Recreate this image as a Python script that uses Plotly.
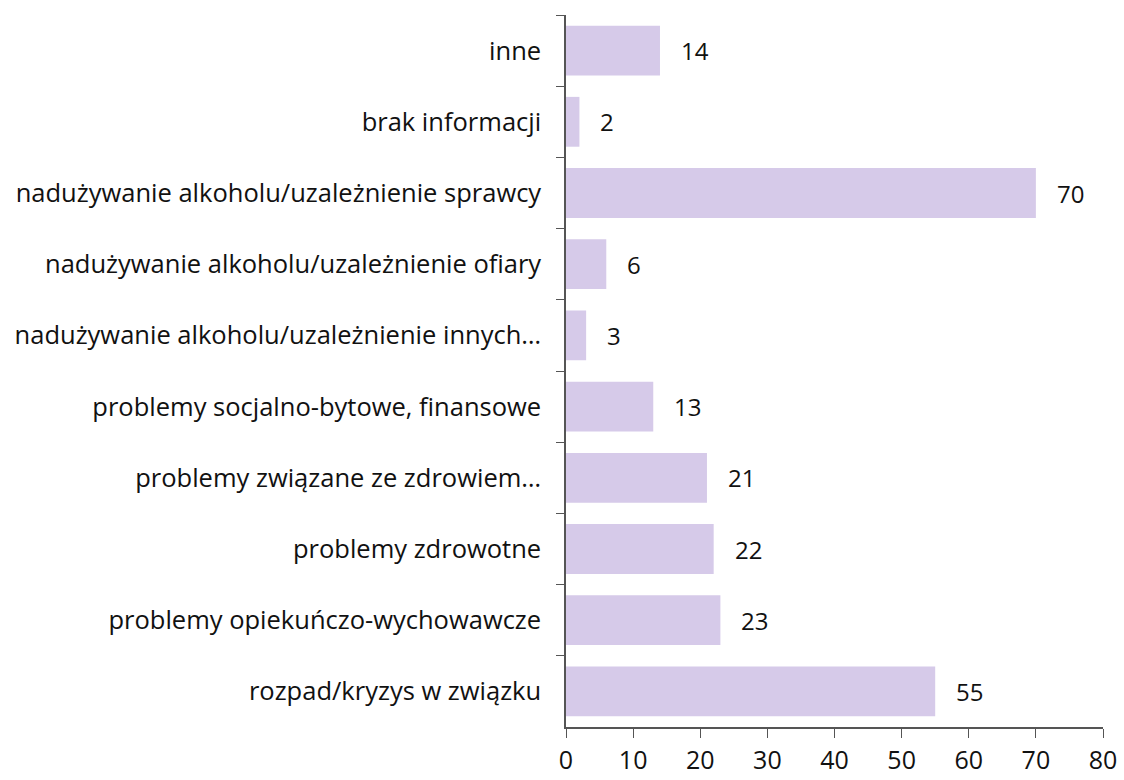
import plotly.graph_objects as go

categories = [
    "inne",
    "brak informacji",
    "nadużywanie alkoholu/uzależnienie sprawcy",
    "nadużywanie alkoholu/uzależnienie ofiary",
    "nadużywanie alkoholu/uzależnienie innych…",
    "problemy socjalno-bytowe, finansowe",
    "problemy związane ze zdrowiem…",
    "problemy zdrowotne",
    "problemy opiekuńczo-wychowawcze",
    "rozpad/kryzys w związku",
]
values = [14, 2, 70, 6, 3, 13, 21, 22, 23, 55]
x_ticks = [0, 10, 20, 30, 40, 50, 60, 70, 80]

bar_color = "#d6cae9"
font_family = "'Open Sans', sans-serif"

fig = go.Figure()

fig.add_trace(go.Bar(
    x=values,
    y=categories,
    orientation="h",
    marker=dict(color=bar_color, line=dict(width=0)),
    hoverinfo="x+y",
))

# value labels right of each bar
for cat, val in zip(categories, values):
    fig.add_annotation(
        x=val, y=cat, text=str(val),
        xanchor="left", xshift=19, showarrow=False,
        font=dict(family=font_family, size=24, color="#111111"),
    )

fig.update_layout(
    width=1124, height=780,
    margin=dict(l=566, r=21, t=15, b=53),
    paper_bgcolor="white",
    plot_bgcolor="white",
    bargap=0.3,
    showlegend=False,
    font=dict(family=font_family, color="#111111"),
    xaxis=dict(
        range=[0, 80],
        tickvals=x_ticks,
        ticks="outside", ticklen=9, tickcolor="#555555",
        showline=True, linecolor="#555555", linewidth=1.5,
        showgrid=False, zeroline=False,
        tickfont=dict(size=25),
        ticklabelstandoff=1,
        automargin=False,
    ),
    yaxis=dict(
        categoryorder="array", categoryarray=categories,
        autorange="reversed",
        tickson="boundaries",
        ticks="outside", ticklen=8, tickcolor="#555555",
        showline=True, linecolor="#555555", linewidth=1.5,
        showgrid=False, zeroline=False,
        tickfont=dict(size=25.5),
        ticklabelstandoff=18,
        automargin=False,
    ),
)

# drop the default page margin so the figure fills the window exactly
fig.write_html(
    "out.html",
    config={"displayModeBar": False},
    post_script="document.body.style.margin='0';",
)
